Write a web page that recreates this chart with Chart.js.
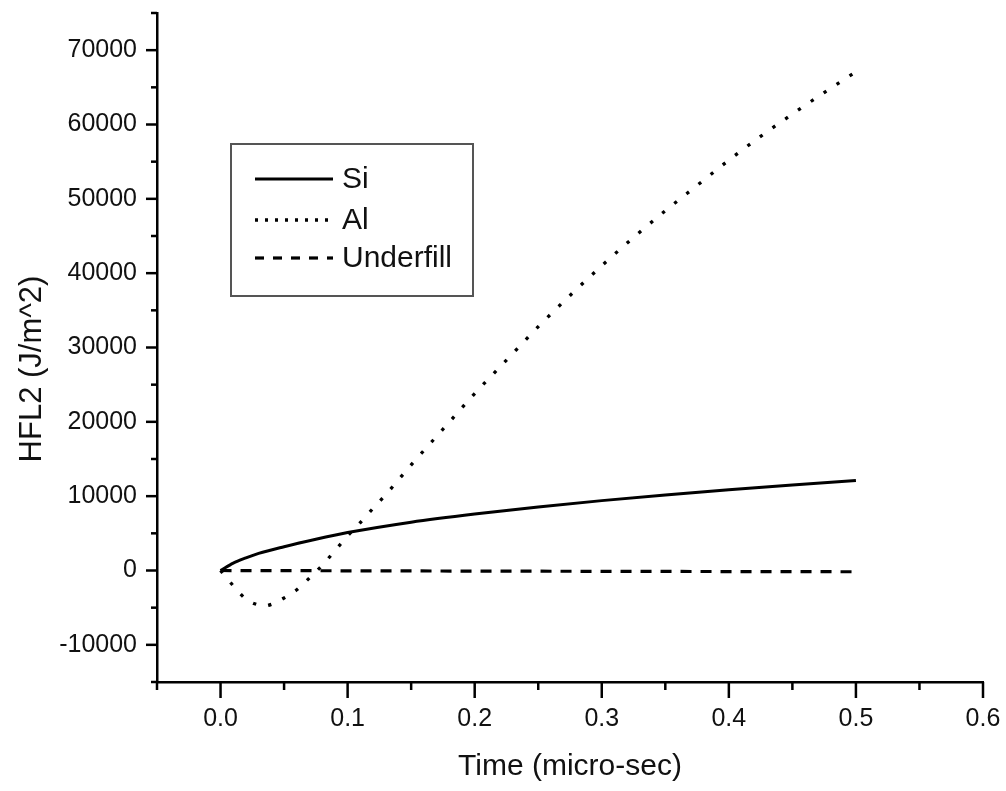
<!DOCTYPE html>
<html>
<head>
<meta charset="utf-8">
<title>HFL2 vs Time</title>
<script src="https://cdn.jsdelivr.net/npm/chart.js@4/dist/chart.umd.min.js"></script>
<style>
  html, body { margin: 0; padding: 0; background: #fff; }
  #wrap { width: 1006px; height: 791px; }
</style>
</head>
<body>
<div id="wrap"><canvas id="c" width="1006" height="791"></canvas></div>
<script>
// Heat flux HFL2 (J/m^2) over time (micro-sec) for three materials
const timeSi = [0, 0.01, 0.02, 0.03, 0.05, 0.075, 0.1, 0.15, 0.2, 0.25, 0.3, 0.35, 0.4, 0.45, 0.5];
const hflSi  = [0, 1000, 1700, 2300, 3200, 4200, 5100, 6500, 7600, 8550, 9400, 10150, 10850, 11500, 12100];

const timeAl = [0, 0.01, 0.02, 0.03, 0.035, 0.04, 0.05, 0.06, 0.07, 0.08, 0.09, 0.1, 0.11, 0.12, 0.13, 0.14, 0.15,
                0.175, 0.2, 0.225, 0.25, 0.275, 0.3, 0.325, 0.35, 0.375, 0.4, 0.425, 0.45, 0.475, 0.5];
const hflAl  = [0, -2050, -3850, -4650, -4750, -4550, -3700, -2600, -1000, 700, 2650, 4650, 6450, 8350, 10200, 12200, 14200,
                19000, 23800, 28300, 32800, 37000, 41000, 44800, 48400, 51800, 55200, 58400, 61400, 64300, 67100];

const timeUnderfill = [0, 0.1, 0.2, 0.3, 0.4, 0.5];
const hflUnderfill  = [0, -40, -80, -110, -140, -170];

const seriesNames = ['Si', 'Al', 'Underfill'];

// Labelled (major) tick values; the minor ticks fall halfway between them
const xMajorTicks = [0.0, 0.1, 0.2, 0.3, 0.4, 0.5, 0.6];
const yMajorTicks = [-10000, 0, 10000, 20000, 30000, 40000, 50000, 60000, 70000];

const xTitle = 'Time (micro-sec)';
const yTitle = 'HFL2 (J/m^2)';

const FONT = '"Liberation Sans", Arial, sans-serif';

const toPoints = (xs, ys) => xs.map((x, i) => ({ x, y: ys[i] }));
const isMajor = (list, v, eps) => list.some(m => Math.abs(m - v) < eps);

// Outward tick marks, long for labelled values and short for the in-between ones
const tickMarks = {
  id: 'tickMarks',
  afterDraw(chart) {
    const { ctx } = chart;
    const xs = chart.scales.x, ys = chart.scales.y;
    const axisX = chart.chartArea.left, axisY = chart.chartArea.bottom;
    ctx.save();
    ctx.strokeStyle = '#000';
    ctx.lineWidth = 2.5;
    xs.ticks.forEach(t => {
      const px = xs.getPixelForValue(t.value);
      const len = isMajor(xMajorTicks, t.value, 1e-6) ? 16 : 8;
      ctx.beginPath();
      ctx.moveTo(px, axisY);
      ctx.lineTo(px, axisY + len);
      ctx.stroke();
    });
    ys.ticks.forEach(t => {
      const py = ys.getPixelForValue(t.value);
      const len = isMajor(yMajorTicks, t.value, 1e-3) ? 11 : 6;
      ctx.beginPath();
      ctx.moveTo(axisX, py);
      ctx.lineTo(axisX - len, py);
      ctx.stroke();
    });
    ctx.restore();
  }
};

// Rotated y-axis title, placed a little below the middle of the axis
const yAxisTitle = {
  id: 'yAxisTitle',
  afterDraw(chart) {
    const { ctx } = chart;
    const area = chart.chartArea;
    ctx.save();
    ctx.translate(32, area.top + 356);
    ctx.rotate(-Math.PI / 2);
    ctx.fillStyle = '#111';
    ctx.font = '31px ' + FONT;
    ctx.textAlign = 'center';
    ctx.textBaseline = 'middle';
    ctx.fillText(yTitle, 0, 0);
    ctx.restore();
  }
};

// Framed legend inside the plot, upper left
const boxLegend = {
  id: 'boxLegend',
  afterDraw(chart) {
    const { ctx } = chart;
    const area = chart.chartArea;
    const bx = area.left + 74, by = area.top + 131, bw = 242, bh = 152;
    ctx.save();
    ctx.fillStyle = '#fff';
    ctx.fillRect(bx, by, bw, bh);
    ctx.strokeStyle = '#555';
    ctx.lineWidth = 2;
    ctx.strokeRect(bx, by, bw, bh);
    const sampleDash = [[], [3, 7], [9, 9]];
    const rows = [35, 76, 114];
    chart.data.datasets.forEach((ds, i) => {
      const yy = by + rows[i];
      ctx.beginPath();
      ctx.setLineDash(sampleDash[i]);
      ctx.lineWidth = ds.borderWidth;
      ctx.strokeStyle = ds.borderColor;
      ctx.moveTo(bx + 24, yy);
      ctx.lineTo(bx + 102, yy);
      ctx.stroke();
      ctx.setLineDash([]);
      ctx.fillStyle = '#111';
      ctx.font = '30px ' + FONT;
      ctx.textAlign = 'left';
      ctx.textBaseline = 'middle';
      ctx.fillText(ds.label, bx + 111, yy + 1);
    });
    ctx.restore();
  }
};

new Chart(document.getElementById('c'), {
  type: 'line',
  data: {
    datasets: [
      {
        label: seriesNames[0],
        data: toPoints(timeSi, hflSi),
        borderColor: '#000',
        borderWidth: 3,
        pointRadius: 0,
        cubicInterpolationMode: 'monotone'
      },
      {
        label: seriesNames[1],
        data: toPoints(timeAl, hflAl),
        borderColor: '#000',
        borderWidth: 3.3,
        borderDash: [3.3, 12.2],
        pointRadius: 0,
        cubicInterpolationMode: 'monotone'
      },
      {
        label: seriesNames[2],
        data: toPoints(timeUnderfill, hflUnderfill),
        borderColor: '#000',
        borderWidth: 3.2,
        borderDash: [11, 9],
        pointRadius: 0,
        cubicInterpolationMode: 'monotone'
      }
    ]
  },
  options: {
    responsive: false,
    animation: false,
    layout: { padding: { left: 0, right: 23, top: 13, bottom: 0 } },
    plugins: {
      legend: { display: false },
      tooltip: { enabled: false }
    },
    scales: {
      x: {
        type: 'linear',
        min: -0.05,
        max: 0.6,
        afterFit(scale) {
          scale.height = 109;
          scale.paddingLeft = 0;
          scale.paddingRight = 0;
        },
        border: { display: true, color: '#000', width: 2.5 },
        grid: { display: true, drawOnChartArea: false, drawTicks: false },
        ticks: {
          stepSize: 0.05,
          padding: 22,
          color: '#111',
          font: { family: FONT, size: 25 },
          autoSkip: false,
          maxRotation: 0,
          callback: v => isMajor(xMajorTicks, v, 1e-6) ? Number(v).toFixed(1) : ''
        },
        title: {
          display: true,
          text: xTitle,
          color: '#111',
          font: { family: FONT, size: 30 },
          padding: { top: 0, bottom: 6 }
        }
      },
      y: {
        type: 'linear',
        min: -15000,
        max: 75000,
        afterFit(scale) {
          scale.width = 157;
          scale.paddingTop = 0;
          scale.paddingBottom = 0;
        },
        border: { display: true, color: '#000', width: 2.5 },
        grid: { display: true, drawOnChartArea: false, drawTicks: false },
        ticks: {
          stepSize: 5000,
          padding: 20,
          color: '#111',
          font: { family: FONT, size: 25 },
          autoSkip: false,
          callback: v => isMajor(yMajorTicks, v, 1e-3) ? String(v) : ''
        },
        title: { display: false }
      }
    }
  },
  plugins: [tickMarks, yAxisTitle, boxLegend]
});
</script>
</body>
</html>
